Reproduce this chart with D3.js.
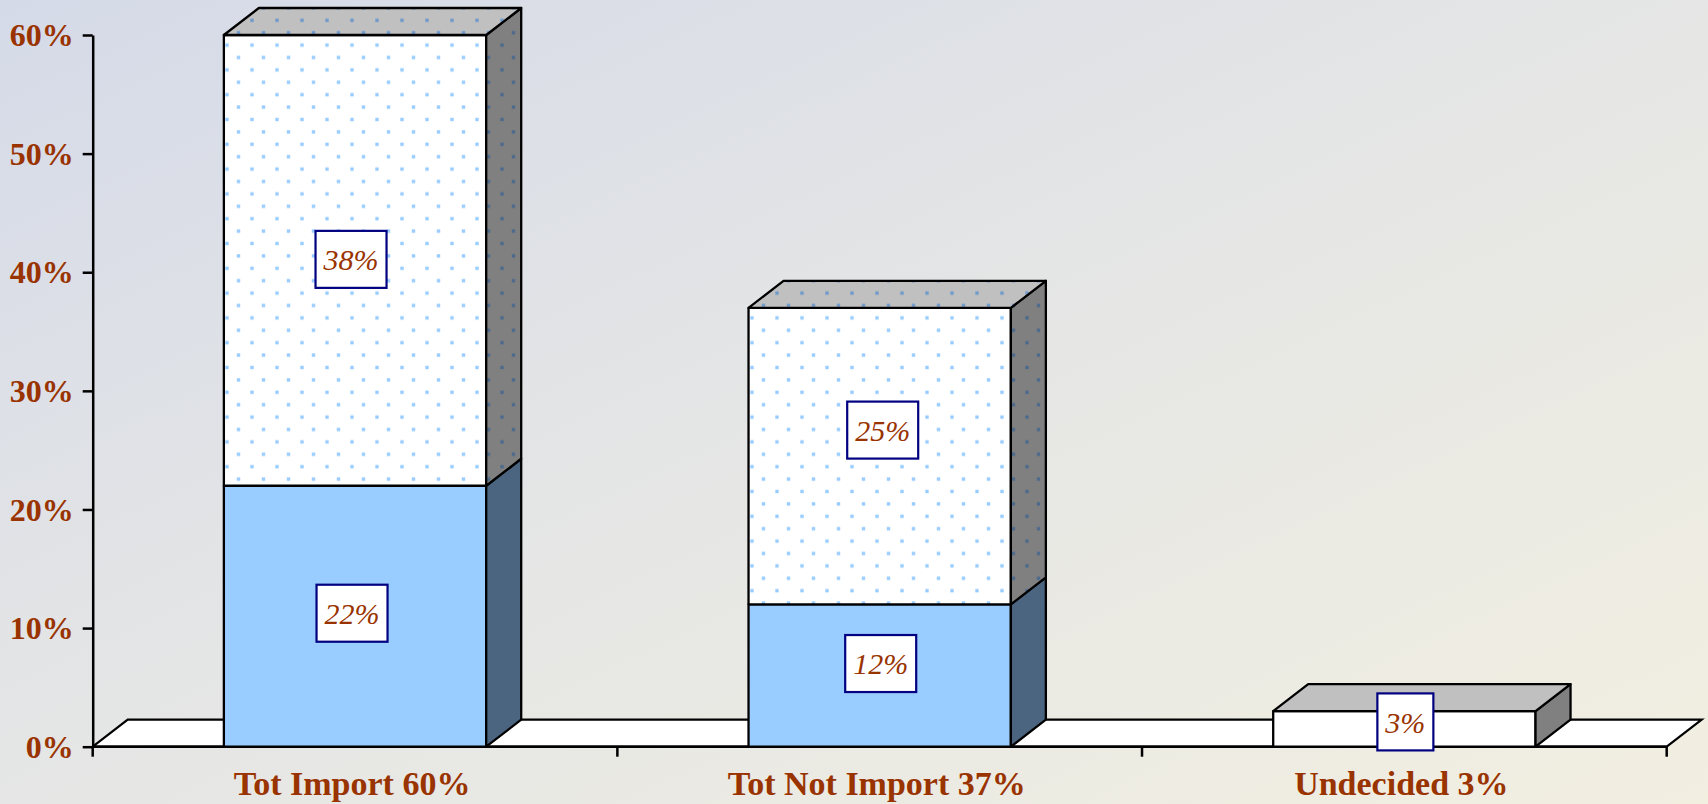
<!DOCTYPE html>
<html>
<head>
<meta charset="utf-8">
<script src="https://cdn.jsdelivr.net/npm/d3@7"></script>
<style>
  html, body { margin: 0; padding: 0; overflow: hidden; background: #e4e5e6; }
  svg { display: block; }
</style>
</head>
<body>
<svg id="chart" width="1708" height="804"></svg>
<script>
// ---- data ----
const categories = ["Tot Import 60%", "Tot Not Import 37%", "Undecided 3%"];
const seriesKeys = ["base", "upper", "undecided"];
const baseValues = [0.22, 0.12, 0];
const upperValues = [0.38, 0.25, 0];
const undecidedValues = [0, 0, 0.03];
const yTickValues = [0, 0.1, 0.2, 0.3, 0.4, 0.5, 0.6];

// ---- layout ----
const W = 1708, H = 804;
const plot = { left: 92.7, right: 1666.7, top: 35, bottom: 746.7 };
const depth = { dx: 35, dy: -27 };
// small manual offsets for the value boxes [dx, dy] per series / category
const labelNudge = {
  base: [[-3, -3], [1, -12], [0, 0]],
  upper: [[-4, -1], [3, -26], [0, 0]],
  undecided: [[0, 0], [0, 0], [1, -7]]
};
const textColor = "#993300";
const serif = "'Liberation Serif', 'DejaVu Serif', serif";

const rows = categories.map((c, i) => ({
  category: c,
  base: baseValues[i],
  upper: upperValues[i],
  undecided: undecidedValues[i]
}));

const svg = d3.select("#chart");
const defs = svg.append("defs");

// background wash
const bg = defs.append("linearGradient").attr("id", "bg")
  .attr("x1", 0).attr("y1", 0).attr("x2", 1).attr("y2", 1);
bg.append("stop").attr("offset", 0).attr("stop-color", "#d5dae8");
bg.append("stop").attr("offset", 0.5).attr("stop-color", "#e5e6e5");
bg.append("stop").attr("offset", 1).attr("stop-color", "#f2efe1");
svg.append("rect").attr("width", W).attr("height", H).attr("fill", "url(#bg)");

// dotted fills
function dotPattern(id, bgColor, dotColor) {
  const p = defs.append("pattern").attr("id", id)
    .attr("patternUnits", "userSpaceOnUse")
    .attr("width", 25).attr("height", 24.8);
  p.append("rect").attr("width", 25).attr("height", 24.8).attr("fill", bgColor);
  p.append("rect").attr("x", 0.3).attr("y", 18.6).attr("width", 3.4).attr("height", 3.4).attr("fill", dotColor);
  p.append("rect").attr("x", 11.8).attr("y", 6.2).attr("width", 3.4).attr("height", 3.4).attr("fill", dotColor);
}
dotPattern("dotsFront", "#ffffff", "#99ccff");
dotPattern("dotsTop", "#c0c0c0", "#6f9acb");
dotPattern("dotsSide", "#808080", "#4c6a8c");

const faceStyle = {
  base: { front: "#99ccff", side: "#4b6580", top: "#c0c0c0" },
  upper: { front: "url(#dotsFront)", side: "url(#dotsSide)", top: "url(#dotsTop)" },
  undecided: { front: "#ffffff", side: "#808080", top: "#c0c0c0" }
};

// ---- scales ----
const x = d3.scaleBand()
  .domain(categories)
  .range([plot.left, plot.right])
  .paddingInner(0.5)
  .paddingOuter(0.25);
const y = d3.scaleLinear().domain([0, 0.6]).range([plot.bottom, plot.top]);

// ---- floor ----
const floorPts = [
  [plot.left, y(0)],
  [plot.left + depth.dx, y(0) + depth.dy],
  [plot.right + depth.dx, y(0) + depth.dy],
  [plot.right, y(0)]
];
svg.append("path")
  .attr("d", d3.line()(floorPts) + "Z")
  .attr("fill", "#ffffff")
  .attr("stroke", "#000")
  .attr("stroke-width", 2.2)
  .attr("stroke-linejoin", "miter");

// ---- axes ----
const yAxis = svg.append("g")
  .attr("transform", `translate(${plot.left},0)`)
  .call(d3.axisLeft(y).tickValues(yTickValues).tickFormat(d3.format(".0%"))
    .tickSize(10).tickSizeOuter(0).tickPadding(9));
yAxis.select(".domain").attr("stroke", "#000").attr("stroke-width", 2.5);
yAxis.selectAll(".tick line").attr("stroke", "#000").attr("stroke-width", 2.5);
yAxis.selectAll(".tick text")
  .attr("fill", textColor)
  .style("font-family", serif)
  .style("font-weight", "bold")
  .style("font-size", "32px")
  .attr("dy", "0.33em");

// category axis: boundaries between bands
const step = x.step();
const bounds = d3.range(categories.length + 1).map(i => plot.left + i * step);
const xAxis = svg.append("g");
xAxis.append("line")
  .attr("x1", plot.left).attr("x2", plot.right)
  .attr("y1", y(0)).attr("y2", y(0))
  .attr("stroke", "#000").attr("stroke-width", 2.5);
xAxis.selectAll("line.tick").data(bounds).join("line").attr("class", "tick")
  .attr("x1", d => d).attr("x2", d => d)
  .attr("y1", y(0)).attr("y2", y(0) + 10)
  .attr("stroke", "#000").attr("stroke-width", 2.5);
xAxis.selectAll("text").data(categories).join("text")
  .attr("x", d => x(d) + x.bandwidth() / 2 - 3)
  .attr("y", 795)
  .attr("text-anchor", "middle")
  .attr("fill", textColor)
  .style("font-family", serif)
  .style("font-weight", "bold")
  .style("font-size", "34px")
  .text(d => d);

// ---- bars ----
const stack = d3.stack().keys(seriesKeys)(rows);
const segments = [];
stack.forEach(layer => {
  layer.forEach((d, i) => {
    if (d[1] - d[0] > 0) {
      segments.push({ key: layer.key, ci: i, category: categories[i], y0: d[0], y1: d[1], value: d[1] - d[0] });
    }
  });
});
// topmost segment per category gets the top face
const topOf = {};
segments.forEach(s => {
  if (!topOf[s.category] || s.y1 > topOf[s.category].y1) topOf[s.category] = s;
});

const barG = svg.append("g");
const line = d3.line();
categories.forEach(cat => {
  const segs = segments.filter(s => s.category === cat).sort((a, b) => a.y0 - b.y0);
  const x0 = x(cat), x1 = x(cat) + x.bandwidth();
  segs.forEach(s => {
    const yb = y(s.y0), yt = y(s.y1);
    const st = faceStyle[s.key];
    const g = barG.append("g");
    g.append("path")
      .attr("d", line([[x0, yb], [x0, yt], [x1, yt], [x1, yb]]) + "Z")
      .attr("fill", st.front);
    g.append("path")
      .attr("d", line([[x1, yb], [x1, yt], [x1 + depth.dx, yt + depth.dy], [x1 + depth.dx, yb + depth.dy]]) + "Z")
      .attr("fill", st.side);
    if (topOf[cat] === s) {
      g.append("path")
        .attr("d", line([[x0, yt], [x0 + depth.dx, yt + depth.dy], [x1 + depth.dx, yt + depth.dy], [x1, yt]]) + "Z")
        .attr("fill", st.top);
    }
    g.selectAll("path")
      .attr("stroke", "#000")
      .attr("stroke-width", 2.3)
      .attr("stroke-linejoin", "round");
  });
});

// ---- value labels ----
const labelG = svg.append("g");
segments.forEach(s => {
  const nudge = labelNudge[s.key][s.ci];
  const cx = x(s.category) + x.bandwidth() / 2 + nudge[0];
  const cy = y((s.y0 + s.y1) / 2) + nudge[1];
  const g = labelG.append("g");
  const box = g.append("rect");
  const t = g.append("text")
    .attr("x", cx).attr("y", cy)
    .attr("dy", "0.36em")
    .attr("text-anchor", "middle")
    .attr("fill", textColor)
    .style("font-family", serif)
    .style("font-style", "italic")
    .style("font-size", "30px")
    .text(d3.format(".0%")(s.value));
  const w = t.node().getComputedTextLength() + 16;
  const h = 57;
  box.attr("x", cx - w / 2).attr("y", cy - h / 2)
    .attr("width", w).attr("height", h)
    .attr("fill", "#ffffff")
    .attr("stroke", "#000080")
    .attr("stroke-width", 2.2);
});
</script>
</body>
</html>
